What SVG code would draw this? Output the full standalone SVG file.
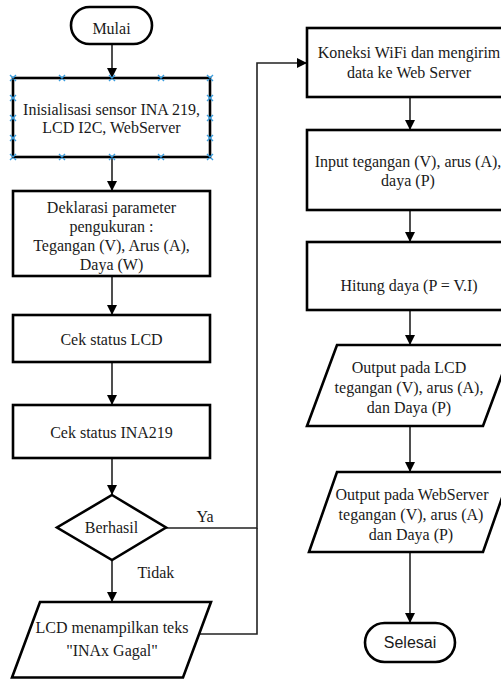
<svg xmlns="http://www.w3.org/2000/svg" width="501" height="679" viewBox="0 0 501 679">
<defs>
<marker id="arr" markerUnits="userSpaceOnUse" markerWidth="12" markerHeight="12" viewBox="0 0 12 12" refX="11" refY="6" orient="auto">
<path d="M1,1 L11,6 L1,11 Z" fill="#000"/>
</marker>
</defs>
<style>
.box{fill:#fff;stroke:#000;stroke-width:2.6}
.t{font-family:"Liberation Serif","Times New Roman",serif;font-size:16px;fill:#1a1a1a;text-anchor:middle}
.s{font-family:"Liberation Sans",Arial,sans-serif;font-size:16px;fill:#1a1a1a;text-anchor:middle}
.c{fill:none;stroke:#222;stroke-width:1.6}
.h{stroke:#3a9ee0;stroke-width:1.4}
</style>
<rect width="501" height="679" fill="#fff"/>
<g id="connectors">
<line class="c" x1="112" y1="44" x2="112" y2="78" marker-end="url(#arr)"/>
<line class="c" x1="112" y1="157" x2="112" y2="191" marker-end="url(#arr)"/>
<line class="c" x1="112" y1="276" x2="112" y2="315" marker-end="url(#arr)"/>
<line class="c" x1="112" y1="362" x2="112" y2="405" marker-end="url(#arr)"/>
<line class="c" x1="112" y1="458" x2="112" y2="495" marker-end="url(#arr)"/>
<line class="c" x1="112" y1="560" x2="112" y2="602" marker-end="url(#arr)"/>
<polyline class="c" points="166,528 257,528 257,63 307,63" marker-end="url(#arr)"/>
<polyline class="c" points="200,634 257,634 257,528"/>
<line class="c" x1="410" y1="97" x2="410" y2="130" marker-end="url(#arr)"/>
<line class="c" x1="410" y1="210" x2="410" y2="242" marker-end="url(#arr)"/>
<line class="c" x1="410" y1="310" x2="410" y2="345" marker-end="url(#arr)"/>
<line class="c" x1="410" y1="426" x2="410" y2="472" marker-end="url(#arr)"/>
<line class="c" x1="410" y1="552" x2="410" y2="623" marker-end="url(#arr)"/>
<text class="t" x="205" y="522">Ya</text>
<text class="t" x="156" y="578">Tidak</text>
</g>
<g id="mulai">
<rect class="box" x="71" y="7" width="81" height="37" rx="18.5"/>
<text class="t" x="111.5" y="34">Mulai</text>
</g>
<g id="inisialisasi">
<rect class="box" x="13" y="78" width="197" height="79"/>
<text class="t" x="111.5" y="115">Inisialisasi sensor INA 219,</text>
<text class="t" x="111.5" y="133">LCD I2C, WebServer</text>
<g class="h">
<path d="M10,75 l6,6 M16,75 l-6,6 M59,75 l6,6 M65,75 l-6,6 M109,75 l6,6 M115,75 l-6,6 M158,75 l6,6 M164,75 l-6,6 M207,75 l6,6 M213,75 l-6,6"/>
<path d="M10,154 l6,6 M16,154 l-6,6 M59,154 l6,6 M65,154 l-6,6 M109,154 l6,6 M115,154 l-6,6 M158,154 l6,6 M164,154 l-6,6 M207,154 l6,6 M213,154 l-6,6"/>
<path d="M10,95 l6,6 M16,95 l-6,6 M10,115 l6,6 M16,115 l-6,6 M10,135 l6,6 M16,135 l-6,6"/>
<path d="M207,95 l6,6 M213,95 l-6,6 M207,115 l6,6 M213,115 l-6,6 M207,135 l6,6 M213,135 l-6,6"/>
</g>
</g>
<g id="deklarasi">
<rect class="box" x="13" y="191" width="197" height="85"/>
<text class="t" x="111.5" y="213">Deklarasi parameter</text>
<text class="t" x="111.5" y="232">pengukuran :</text>
<text class="t" x="111.5" y="251">Tegangan (V), Arus (A),</text>
<text class="t" x="111.5" y="270">Daya (W)</text>
</g>
<g id="ceklcd">
<rect class="box" x="13" y="315" width="197" height="47"/>
<text class="t" x="111.5" y="345">Cek status LCD</text>
</g>
<g id="cekina">
<rect class="box" x="13" y="405" width="197" height="53"/>
<text class="t" x="111.5" y="438">Cek status INA219</text>
</g>
<g id="berhasil">
<polygon class="box" points="112,495 166,527.5 112,560 57,527.5"/>
<text class="t" x="111.5" y="533">Berhasil</text>
</g>
<g id="lcdgagal">
<polygon class="box" points="40,602 211,602 183,677.5 12,677.5"/>
<text class="t" x="112" y="633">LCD menampilkan teks</text>
<text class="t" x="112" y="656">"INAx Gagal"</text>
</g>
<g id="koneksi">
<rect class="box" x="307" y="28" width="206" height="69"/>
<text class="t" x="409" y="58">Koneksi WiFi dan mengirim</text>
<text class="t" x="409" y="78">data ke Web Server</text>
</g>
<g id="input">
<rect class="box" x="307" y="130" width="206" height="80"/>
<text class="t" x="408" y="167">Input tegangan (V), arus (A),</text>
<text class="t" x="408" y="186">daya (P)</text>
</g>
<g id="hitung">
<rect class="box" x="307" y="242" width="206" height="68"/>
<text class="t" x="409" y="291">Hitung daya (P = V.I)</text>
</g>
<g id="outputlcd">
<polygon class="box" points="337,345 513,345 483,426 307,426"/>
<text class="t" x="409" y="373">Output pada LCD</text>
<text class="t" x="409" y="393">tegangan (V), arus (A),</text>
<text class="t" x="409" y="413">dan Daya (P)</text>
</g>
<g id="outputweb">
<polygon class="box" points="337,472 511,472 483,552 309,552"/>
<text class="t" x="412" y="500">Output pada WebServer</text>
<text class="t" x="411" y="520">tegangan (V), arus (A)</text>
<text class="t" x="411" y="540">dan Daya (P)</text>
</g>
<g id="selesai">
<rect class="box" x="365" y="623" width="90" height="39" rx="19.5"/>
<text class="s" x="410" y="648">Selesai</text>
</g>
</svg>
